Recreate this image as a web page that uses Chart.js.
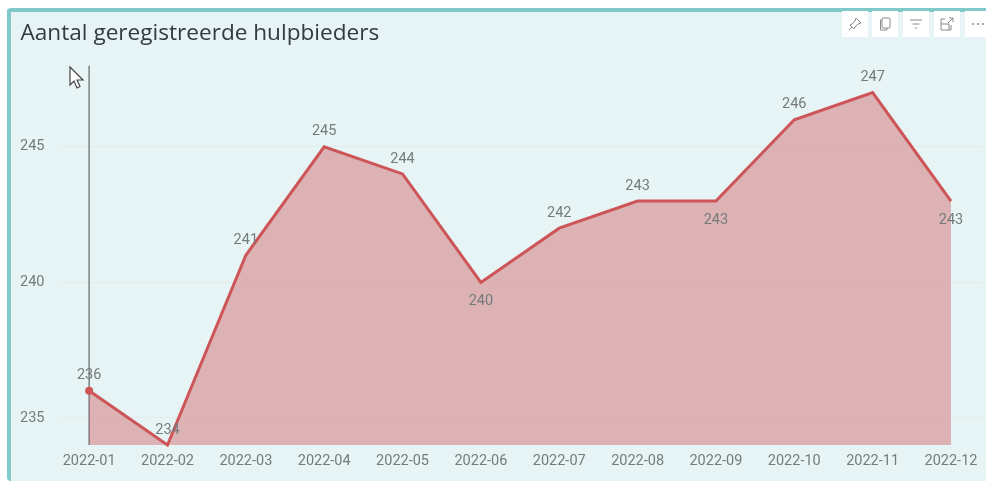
<!DOCTYPE html>
<html>
<head>
<meta charset="utf-8">
<script src="https://cdn.jsdelivr.net/npm/chart.js@4"></script>
<style>
html,body{margin:0;padding:0;background:#fff;width:986px;height:481px;overflow:hidden}
#panel{position:absolute;left:7px;top:8px;width:979px;height:473px;background:#e6f4f5;border-left:4px solid #80c8c9;border-top:4px solid #80c8c9;border-radius:4px 0 0 4px;box-sizing:border-box}
#c{position:absolute;left:0;top:0}
.ic{position:absolute;top:11px;width:26px;height:26px;background:#fff}
.ic svg{position:absolute;left:5px;top:5px;width:16px;height:16px;fill:none;stroke:#8a8a8a;stroke-width:1}
#cur{position:absolute;left:68px;top:65px}
</style>
</head>
<body>
<div id="panel"></div>
<div style="position:absolute;left:0;top:0;width:986px;height:481px"><canvas id="c" width="986" height="481"></canvas></div>
<div class="ic" style="left:842px"><svg viewBox="0 0 16 16"><path d="M9 2l5 5-3 1-3 3-1 2-4-4 2-1 3-3zM5 11l-3 3"/></svg></div>
<div class="ic" style="left:872px"><svg viewBox="0 0 16 16"><rect x="5" y="2" width="8" height="10" rx="1"/><path d="M5 4H3.500v10H10v-2"/></svg></div>
<div class="ic" style="left:903px"><svg viewBox="0 0 16 16"><path d="M2 4h12M4.500 8h7M7 12h2"/></svg></div>
<div class="ic" style="left:934px"><svg viewBox="0 0 16 16"><path d="M6 3H2v11h8V8H2M9 7l5-5M10 2h4v4M12 9v5h-2"/></svg></div>
<div class="ic" style="left:965px;width:21px"><svg viewBox="0 0 16 16" style="fill:#8a8a8a;stroke:none"><circle cx="3" cy="8" r="1"/><circle cx="8" cy="8" r="1"/><circle cx="13" cy="8" r="1"/></svg></div>
<svg id="cur" width="18" height="26" viewBox="0 0 18 26"><path d="M2 2v18l4-4 3 7 3-1.500-3-6.500h6z" fill="#fff" stroke="#444" stroke-width="1.200"/></svg>
<script>
const titleText = 'Aantal geregistreerde hulpbieders';
const categories = ['2022-01','2022-02','2022-03','2022-04','2022-05','2022-06','2022-07','2022-08','2022-09','2022-10','2022-11','2022-12'];
const values = [236,234,241,245,244,240,242,243,243,246,247,243];
const labelBelow = [false,false,false,false,false,true,false,false,true,false,false,true];
const yTicks = [235,240,245];
const yMin = 234, yMax = 248;
const cursorIndex = 0;

const labelFont = '400 14.5px Roboto, sans-serif';
const textColor = '#767a7a';

const valueLabels = {
  id:'valueLabels',
  afterDatasetsDraw(chart){
    const meta = chart.getDatasetMeta(0), ctx = chart.ctx;
    ctx.save();
    ctx.font = labelFont;
    ctx.fillStyle = textColor;
    ctx.textAlign = 'center';
    ctx.textBaseline = 'middle';
    meta.data.forEach((p,i)=>{
      ctx.fillText(String(values[i]), p.x, p.y + (labelBelow[i] ? 19 : -15));
    });
    ctx.restore();
  }
};

new Chart(document.getElementById('c'),{
  type:'line',
  data:{datasets:[
    {
      data:values.map((v,i)=>({x:i,y:v})),
      borderColor:'#cd5558',borderWidth:3,
      backgroundColor:'rgba(205,81,85,0.4)',
      fill:'start',tension:0,clip:false,
      pointRadius:c=>c.dataIndex===cursorIndex?4:0,
      pointBackgroundColor:'#cd5558',pointBorderWidth:0
    },
    {
      data:[{x:cursorIndex,y:yMin},{x:cursorIndex,y:yMax}],
      borderColor:'#7a8082',borderWidth:1.5,pointRadius:0,fill:false
    }
  ]},
  options:{
    responsive:false,animation:false,
    layout:{padding:{left:20.5,right:3,top:0,bottom:0}},
    plugins:{
      legend:{display:false},tooltip:{enabled:false},
      title:{display:true,text:titleText,align:'start',color:'#333a40',
        font:{family:'"Open Sans", sans-serif',size:22.6,weight:'400',lineHeight:1.2},
        padding:{top:20,bottom:18.400}}
    },
    scales:{
      x:{type:'linear',min:-0.391,max:11.396,
        afterBuildTicks(s){s.ticks=categories.map((_,i)=>({value:i}));},
        afterFit(s){s.height=36;},
        grid:{display:false},border:{display:false},
        ticks:{callback:v=>categories[v],color:textColor,font:{family:'Roboto, sans-serif',size:14.5,weight:'400'},maxRotation:0,autoSkip:false,padding:0}},
      y:{min:yMin,max:yMax,
        afterBuildTicks(s){s.ticks=yTicks.map(v=>({value:v}));},
        afterFit(s){s.width=38;},
        grid:{color:'rgba(225,205,205,0.22)',drawTicks:false,lineWidth:1},border:{display:false},
        ticks:{color:textColor,font:{family:'Roboto, sans-serif',size:14.5,weight:'400'},padding:14}}
    }
  },
  plugins:[valueLabels]
});
</script>
</body>
</html>
